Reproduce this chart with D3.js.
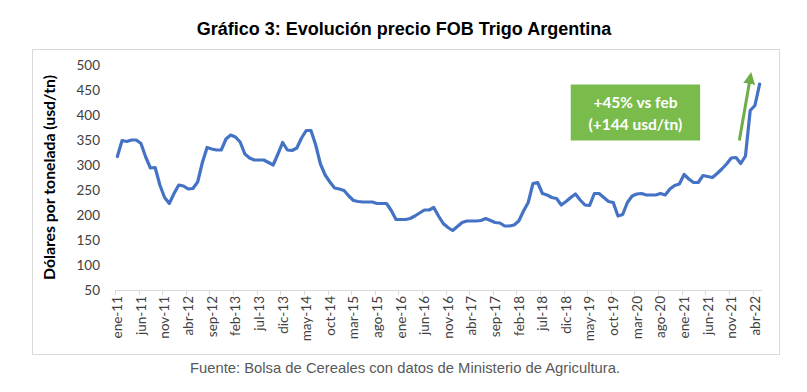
<!DOCTYPE html>
<html>
<head>
<meta charset="utf-8">
<script src="https://cdn.jsdelivr.net/npm/d3@7"></script>
<style>
body { margin: 0; background: #fff; }
svg { display: block; }
</style>
</head>
<body>
<div id="chart"></div>
<script>
// monthly FOB price, ene-11 .. may-22 (usd/tn)
const monthNames = ["ene", "feb", "mar", "abr", "may", "jun", "jul", "ago", "sep", "oct", "nov", "dic"];
const startYear = 2011;
const prices = [
    317, 349, 347, 350, 350, 343, 316, 294, 295, 260, 235, 223,
    243, 260, 258, 252, 253, 266, 305, 335, 332, 330, 330, 352,
    360, 356, 346, 322, 314, 310, 310, 310, 305, 300, 322, 345,
    330, 329, 334, 354, 369, 369, 340, 302, 280, 266, 254, 252,
    249, 238, 229, 227, 226, 226, 226, 223, 223, 223, 209, 191,
    191, 191, 193, 198, 204, 210, 210, 215, 198, 183, 175, 169,
    177, 185, 188, 188, 188, 189, 193, 189, 185, 184, 178, 178,
    180, 188, 208, 225, 263, 265, 243, 240, 235, 233, 220, 227,
    235, 242, 230, 220, 219, 243, 243, 235, 227, 225, 198, 201,
    225, 238, 242, 243, 240, 240, 240, 243, 240, 252, 259, 262,
    281, 272, 265, 265, 279, 277, 275, 283, 292, 302, 314, 315,
    303, 318, 409, 419, 462
];
const yTicks = [50, 100, 150, 200, 250, 300, 350, 400, 450, 500];
const tickEvery = 5;

const titleText = "Gráfico 3: Evolución precio FOB Trigo Argentina";
const yAxisTitle = "Dólares por tonelada (usd/tn)";
const sourceText = "Fuente: Bolsa de Cereales con datos de Ministerio de Agricultura.";
const noteLines = ["+45% vs feb", "(+144 usd/tn)"];
// note box and arrow, in data units (category index, usd/tn)
const noteBox = {i0: 96, i1: 123.4, v0: 349, v1: 461};
const noteArrow = {i0: 131.7, v0: 349, i1: 134, v1: 474};

function init() {
    let width = 807, height = 392;
    let svg = d3.select("#chart").append("svg")
        .attr("width", width)
        .attr("height", height);

    let categories = prices.map((d, i) => monthNames[i % 12] + "-" + String(startYear + Math.floor(i / 12)).slice(2));

    // title
    svg.append("text")
        .attr("x", 404).attr("y", 34.5)
        .attr("text-anchor", "middle")
        .style("font-family", "'Liberation Sans', Arial, sans-serif")
        .style("font-weight", "bold")
        .style("font-size", "18px")
        .attr("fill", "#000")
        .text(titleText);

    // chart frame
    svg.append("rect")
        .attr("x", 32.5).attr("y", 49.5)
        .attr("width", 747).attr("height", 305)
        .attr("fill", "#fff")
        .attr("stroke", "#d9d9d9");

    let x = d3.scaleBand()
        .domain(d3.range(prices.length))
        .range([115, 762]);
    let y = d3.scaleLinear()
        .domain([50, 500])
        .range([290, 65]);
    let cx = i => x.range()[0] + (i + 0.5) * x.step();

    // y labels
    svg.selectAll(".ylab")
        .data(yTicks)
        .join("text")
        .attr("class", "ylab")
        .attr("x", 100)
        .attr("y", d => y(d))
        .attr("dy", "0.36em")
        .attr("text-anchor", "end")
        .style("font-family", "Lato, 'Open Sans', sans-serif")
        .style("font-size", "13.5px")
        .attr("fill", "#404040")
        .text(d => d);

    // y title
    svg.append("text")
        .attr("transform", "translate(55," + y(275) + ") rotate(-90)")
        .attr("text-anchor", "middle")
        .style("font-family", "Lato, 'Open Sans', sans-serif")
        .style("font-weight", "bold")
        .style("font-size", "15.8px")
        .attr("fill", "#000")
        .text(yAxisTitle);

    // x axis line + ticks
    svg.append("line")
        .attr("x1", x.range()[0]).attr("x2", x.range()[1])
        .attr("y1", y(50) + 0.5).attr("y2", y(50) + 0.5)
        .attr("stroke", "#d9d9d9");
    let tickIdx = d3.range(0, prices.length, tickEvery);
    svg.selectAll(".xtick")
        .data(tickIdx)
        .join("line")
        .attr("class", "xtick")
        .attr("x1", d => Math.round(x(d)) + 0.5)
        .attr("x2", d => Math.round(x(d)) + 0.5)
        .attr("y1", y(50))
        .attr("y2", y(50) + 5)
        .attr("stroke", "#d9d9d9");
    svg.selectAll(".xlab")
        .data(tickIdx)
        .join("text")
        .attr("class", "xlab")
        .attr("transform", d => "translate(" + cx(d) + "," + (y(50) + 6) + ") rotate(-90)")
        .attr("dy", "0.36em")
        .attr("text-anchor", "end")
        .style("font-family", "Lato, 'Open Sans', sans-serif")
        .style("font-size", "13.5px")
        .attr("fill", "#404040")
        .text(d => categories[d]);

    // price line
    let line = d3.line()
        .x((d, i) => cx(i))
        .y(d => y(d));
    svg.append("path")
        .datum(prices)
        .attr("d", line)
        .attr("fill", "none")
        .attr("stroke", "#4472C4")
        .attr("stroke-width", 3.2)
        .attr("stroke-linejoin", "round")
        .attr("stroke-linecap", "round");

    // note box
    svg.append("rect")
        .attr("x", cx(noteBox.i0)).attr("y", y(noteBox.v1))
        .attr("width", cx(noteBox.i1) - cx(noteBox.i0))
        .attr("height", y(noteBox.v0) - y(noteBox.v1))
        .attr("fill", "#79BC4C");
    svg.selectAll(".note")
        .data(noteLines)
        .join("text")
        .attr("class", "note")
        .attr("x", (cx(noteBox.i0) + cx(noteBox.i1)) / 2)
        .attr("y", (d, i) => y(noteBox.v1) + 18 + i * 22)
        .attr("dy", "0.36em")
        .attr("text-anchor", "middle")
        .style("font-family", "Lato, 'Open Sans', sans-serif")
        .style("font-weight", "bold")
        .style("font-size", "15.5px")
        .attr("fill", "#fff")
        .text(d => d);

    // arrow
    svg.append("defs").append("marker")
        .attr("id", "head")
        .attr("viewBox", "0 0 10 10")
        .attr("refX", 5).attr("refY", 5)
        .attr("markerWidth", 4).attr("markerHeight", 4)
        .attr("orient", "auto")
        .append("path")
        .attr("d", "M0,0 L10,5 L0,10 Z")
        .attr("fill", "#70AD47");
    svg.append("line")
        .attr("x1", cx(noteArrow.i0)).attr("y1", y(noteArrow.v0))
        .attr("x2", cx(noteArrow.i1)).attr("y2", y(noteArrow.v1))
        .attr("stroke", "#70AD47")
        .attr("stroke-width", 3)
        .attr("marker-end", "url(#head)");

    // source
    svg.append("text")
        .attr("x", 405).attr("y", 373)
        .attr("text-anchor", "middle")
        .style("font-family", "'Liberation Sans', Arial, sans-serif")
        .style("font-size", "14.8px")
        .attr("fill", "#595959")
        .text(sourceText);
}
window.onload = init;
</script>
</body>
</html>
